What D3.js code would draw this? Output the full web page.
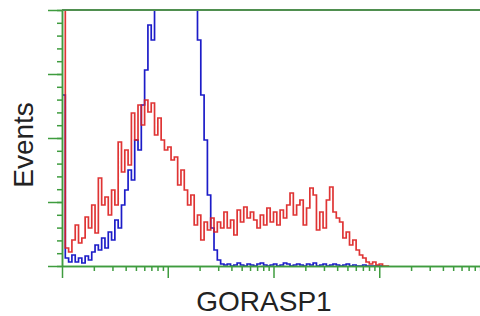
<!DOCTYPE html>
<html>
<head>
<meta charset="utf-8">
<script src="https://cdn.jsdelivr.net/npm/d3@7"></script>
<style>
  body { margin: 0; background: #fff; }
  svg { display: block; }
</style>
</head>
<body>
<div id="canvas"></div>
<script>
"use strict"

// DATA: event counts per channel (32 channels per decade, log axis)
let channelsPerDecade = 32;

let redCounts = [400, 18, 14, 26, 41, 23, 28, 49, 38, 61,
  33, 88, 61, 69, 51, 76, 61, 124, 94, 116,
  101, 153, 126, 161, 141, 166, 154, 163, 131, 148,
  126, 116, 119, 106, 109, 81, 96, 76, 61, 71,
  41, 51, 26, 44, 36, 48, 34, 44, 38, 54,
  38, 46, 31, 56, 44, 59, 48, 54, 46, 38,
  51, 41, 58, 44, 54, 41, 56, 48, 61, 73,
  51, 61, 66, 41, 58, 78, 71, 36, 54, 38,
  66, 79, 54, 48, 44, 28, 34, 21, 26, 16,
  11, 8, 4, 2, 4, 1, 2, 0, 0];

let blueCounts = [171, 8, 4, 11, 4, 8, 3, 10, 6, 14,
  21, 16, 28, 18, 34, 26, 46, 38, 61, 76,
  96, 86, 126, 116, 161, 196, 241, 226, 300, 320,
  310, 330, 320, 300, 310, 320, 330, 310, 300, 290,
  280, 226, 171, 126, 71, 38, 16, 6, 2, 1,
  2, 0, 1, 3, 1, 0, 2, 1, 0, 2,
  3, 1, 0, 1, 2, 0, 1, 3, 2, 0,
  1, 2, 1, 0, 2, 1, 3, 0, 1, 2,
  0, 1, 2, 1, 0, 1, 2, 0, 1, 0,
  0, 1, 0, 0, 0, 0, 0];

let xMajorTicks = [1, 10, 100, 1000, 10000];
let xMinorTicks = [];
for (let d = 1; d < 10000; d *= 10) {
  for (let k = 2; k <= 9; k++) xMinorTicks.push(d * k);
}
let yMajorTicks = [0, 64, 128, 192, 256];
let yMinorTicks = d3.range(0, 256.1, 12.8);

/* drawing config */
let svgWidth = 480;
let svgHeight = 316;
let plotLeft = 62;
let plotTop = 10;
let plotBottom = 266;
let plotRight = 485;
let green = "#3f9c3f";

let svg = d3.select("#canvas")
  .append("svg")
  .attr("width", svgWidth)
  .attr("height", svgHeight);

svg.append("rect")
  .attr("width", svgWidth)
  .attr("height", svgHeight)
  .attr("fill", "white");

// scales
let xScale = d3.scaleLog()
  .domain([1, 10000])
  .range([plotLeft, plotRight]);

let yScale = d3.scaleLinear()
  .domain([0, 256])
  .range([plotBottom, plotTop]);

// clip to plot area
svg.append("clipPath")
  .attr("id", "plotClip")
  .append("rect")
  .attr("x", plotLeft)
  .attr("y", plotTop)
  .attr("width", svgWidth - plotLeft)
  .attr("height", plotBottom - plotTop + 1);

function histPoints(counts) {
  let pts = [[1, 0]];
  for (let i = 0; i < counts.length; i++) {
    pts.push([Math.pow(10, i / channelsPerDecade), counts[i]]);
  }
  pts.push([Math.pow(10, counts.length / channelsPerDecade), 0]);
  return pts;
}

let line = d3.line()
  .x(function (d) { return xScale(d[0]) })
  .y(function (d) { return yScale(d[1]) })
  .curve(d3.curveStepAfter);

let plot = svg.append("g").attr("clip-path", "url(#plotClip)");

plot.append("path")
  .datum(histPoints(blueCounts))
  .attr("d", line)
  .attr("fill", "none")
  .attr("stroke", "#1c1cc8")
  .attr("stroke-width", 1.7);

plot.append("path")
  .datum(histPoints(redCounts))
  .attr("d", line)
  .attr("fill", "none")
  .attr("stroke", "#dc1e1e")
  .attr("stroke-width", 1.7)
  .attr("stroke-opacity", 0.9);

// AXES
function styleAxis(g) {
  g.selectAll("path, line").attr("stroke", green).attr("stroke-width", 1.5);
  g.selectAll("text").remove();
}

svg.append("g")
  .attr("transform", "translate(0," + plotBottom + ")")
  .call(d3.axisBottom(xScale).tickValues(xMinorTicks).tickSize(5).tickSizeOuter(0).tickFormat(""))
  .call(styleAxis);

svg.append("g")
  .attr("transform", "translate(0," + plotBottom + ")")
  .call(d3.axisBottom(xScale).tickValues(xMajorTicks).tickSize(12).tickSizeOuter(0).tickFormat(""))
  .call(styleAxis);

svg.append("g")
  .attr("transform", "translate(" + plotLeft + ",0)")
  .call(d3.axisLeft(yScale).tickValues(yMinorTicks).tickSize(5).tickSizeOuter(0).tickFormat(""))
  .call(styleAxis);

svg.append("g")
  .attr("transform", "translate(" + plotLeft + ",0)")
  .call(d3.axisLeft(yScale).tickValues(yMajorTicks).tickSize(14).tickSizeOuter(0).tickFormat(""))
  .call(styleAxis);

// top border
svg.append("line")
  .attr("x1", plotLeft)
  .attr("x2", svgWidth)
  .attr("y1", plotTop)
  .attr("y2", plotTop)
  .attr("stroke", "#4f8f4f")
  .attr("stroke-width", 2);

// axis labels
svg.append("text")
  .attr("x", 264)
  .attr("y", 311)
  .attr("text-anchor", "middle")
  .style("font-family", "Liberation Sans, Arial, sans-serif")
  .style("font-size", "28px")
  .attr("fill", "#222")
  .text("GORASP1");

svg.append("text")
  .attr("transform", "translate(33,145) rotate(-90)")
  .attr("text-anchor", "middle")
  .style("font-family", "Liberation Sans, Arial, sans-serif")
  .style("font-size", "28px")
  .attr("fill", "#222")
  .text("Events");
</script>
</body>
</html>
